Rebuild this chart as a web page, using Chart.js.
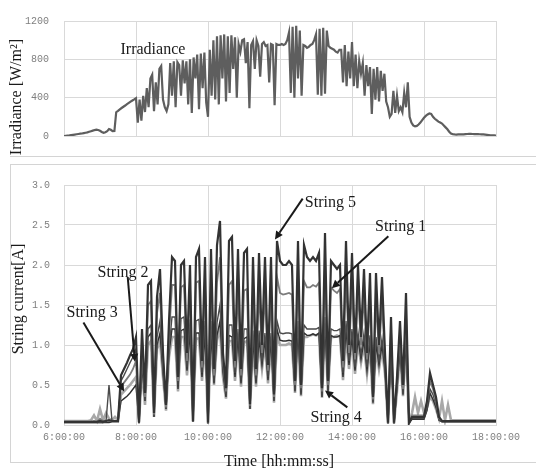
<!DOCTYPE html>
<html>
<head>
<meta charset="utf-8">
<script src="https://cdn.jsdelivr.net/npm/chart.js@4.4.1/dist/chart.umd.min.js"></script>
<style>
  body { margin: 0; width: 536px; height: 471px; background: #fff; overflow: hidden; position: relative; }
  canvas { position: absolute; left: 0; }
  #irrChart { top: 0; }
  #curChart { top: 165px; }
  .sep { position: absolute; left: 10px; top: 156px; width: 530px; border-top: 1px solid #d4d4d4; }
  .frame { position: absolute; left: 10px; top: 164px; width: 540px; height: 297px; border: 1px solid #d4d4d4; }
  .title { position: absolute; font-family: 'Liberation Serif', serif; font-size: 16px; color: #1a1a1a; white-space: nowrap; transform: translate(-50%, -50%); }
  .rot { transform: translate(-50%, -50%) rotate(-90deg); }
</style>
</head>
<body>
<div class="sep"></div>
<div class="frame"></div>
<canvas id="irrChart" width="536" height="157"></canvas>
<canvas id="curChart" width="536" height="297"></canvas>
<div class="title rot" style="left:16px; top:97px;">Irradiance [W/m²]</div>
<div class="title rot" style="left:18px; top:299px;">String current[A]</div>
<div class="title" style="left:279px; top:461px;">Time [hh:mm:ss]</div>

<script>
// sampling: hours from 6:00, irradiance every 3 min, currents every 5 min
const startHour = 6;
const irrStepMin = 3;
const curStepMin = 5;

const timeLabels = ['6:00:00', '8:00:00', '10:00:00', '12:00:00', '14:00:00', '16:00:00', '18:00:00'];

// W/m2
const irradiance = [
  0,2,4,6,9,12,15,18,21,24,
  26,30,34,38,44,50,56,62,66,63,
  55,42,33,40,50,72,65,50,52,248,
  262,278,292,305,318,332,345,358,370,382,
  395,
  140,380,160,420,250,500,300,600,640,260,
  560,330,700,730,380,300,260,330,760,420,
  780,300,770,740,420,790,550,780,330,800,
  240,820,600,850,280,860,500,870,350,200,
  900,420,1000,380,1040,330,1050,600,1060,360,
  1040,450,1050,700,1030,400,960,880,1000,1010,
  760,980,290,950,990,700,1000,940,620,960,
  980,940,950,560,960,950,320,960,950,950,
  960,950,960,1000,1080,450,1140,400,1150,600,
  1100,420,950,940,920,930,950,960,1000,1060,
  430,1120,420,1130,440,1100,940,920,910,900,
  880,870,900,900,560,950,520,880,600,980,
  520,850,500,780,650,760,420,740,520,720,
  230,700,380,720,360,680,470,650,360,300,
  200,230,470,240,420,260,300,250,450,300,
  560,200,140,110,100,105,120,140,165,190,
  210,225,235,230,200,180,165,150,140,130,
  110,90,70,45,25,18,16,15,16,17,
  18,18,20,21,22,22,21,20,20,19,
  18,17,16,14,12,10,8,7,6,5
];

// A, one row per hour (6h ... 17h) + 18:00
const string5 = [
  .04,.04,.04,.04,.04,.04,.04,.04,.04,.04,.04,.04,
  .05,.04,.05,.06,.05,.05,.05,.62,.7,.78,.87,.95,
  1.1,.03,1.2,.4,1.75,1.8,.15,1.6,1.95,.9,.25,1.3,
  2.1,2.05,.6,2.0,2.05,.9,2.0,.05,2.1,2.2,.8,2.1,
  .03,2.2,.7,2.25,2.55,.9,.46,2.3,2.35,.8,2.2,.7,
  2.15,2.2,.26,2.1,.7,2.15,1.0,2.1,.75,2.1,.38,2.3,
  2.05,2.0,2.0,2.05,2.0,.55,2.3,.5,2.25,2.1,2.05,2.1,
  2.05,2.15,.46,2.4,.55,2.05,2.0,1.95,2.0,.8,2.3,1.0,
  2.15,.9,2.0,1.1,1.95,.9,1.9,.35,1.9,1.0,1.85,.9,
  .03,1.35,.03,.6,1.3,.5,1.65,.03,.1,.1,.1,.1,
  .1,.3,.65,.5,.35,.1,.05,.05,.05,.05,.05,.05,
  .05,.05,.05,.05,.05,.05,.05,.05,.05,.05,.05,.05,
  .05
];
const string1 = [
  .04,.04,.04,.04,.04,.04,.04,.04,.04,.04,.05,.04,
  .08,.05,.06,.05,.05,.05,.05,.48,.53,.58,.63,.7,
  .8,.03,1.0,.35,1.5,1.55,.13,1.4,1.65,.8,.22,1.1,
  1.75,1.75,.55,1.72,1.75,.8,1.75,.05,1.78,1.8,.72,1.75,
  .03,1.8,.62,1.78,2.1,.8,.42,1.75,1.8,.72,1.7,.62,
  1.68,1.7,.24,1.65,.62,1.68,.9,1.65,.68,1.66,.35,1.85,
  1.65,1.63,1.64,1.65,1.63,.5,1.85,.46,1.8,1.72,1.72,1.75,
  1.73,1.78,.42,1.95,.5,1.72,1.68,1.65,1.7,.72,1.85,.9,
  1.72,.82,1.65,1.0,1.62,.82,1.58,.32,1.55,.9,1.52,.82,
  .03,1.2,.03,.55,1.15,.45,1.4,.03,.12,.12,.12,.12,
  .12,.28,.55,.45,.3,.08,.05,.05,.05,.05,.05,.05,
  .05,.05,.05,.05,.05,.05,.05,.05,.05,.05,.05,.05,
  .05
];
const string2 = [
  .03,.03,.03,.03,.03,.03,.03,.03,.03,.03,.03,.03,
  .03,.03,.04,.5,.05,.05,.05,.55,.62,.7,.78,.85,
  .95,.03,.8,.3,1.2,1.25,.12,1.1,1.3,.7,.2,.95,
  1.35,1.35,.5,1.33,1.35,.72,1.32,.04,1.3,1.32,.65,1.3,
  .02,1.3,.55,1.28,1.5,.7,.38,1.25,1.25,.65,1.2,.56,
  1.2,1.2,.22,1.18,.56,1.18,.8,1.15,.6,1.15,.32,1.3,
  1.15,1.14,1.15,1.15,1.14,.45,1.3,.42,1.25,1.2,1.2,1.2,
  1.2,1.22,.38,1.35,.45,1.2,1.18,1.18,1.2,.65,1.3,.8,
  1.2,.72,1.16,.88,1.15,.72,1.12,.3,1.1,.8,1.08,.72,
  .02,1.0,.02,.5,1.0,.4,1.15,.02,.08,.08,.08,.08,
  .08,.2,.45,.38,.25,.07,.04,.04,.04,.04,.04,.04,
  .04,.04,.04,.04,.04,.04,.04,.04,.04,.04,.04,.04,
  .04
];
const string3 = [
  .03,.03,.03,.03,.03,.03,.03,.03,.03,.03,.03,.03,
  .03,.03,.03,.03,.04,.04,.04,.3,.33,.36,.4,.45,
  .5,.02,.75,.3,1.1,1.15,.1,1.0,1.15,.65,.2,.9,
  1.2,1.2,.45,1.18,1.2,.68,1.18,.04,1.15,1.15,.6,1.15,
  .02,1.15,.52,1.12,1.3,.66,.35,1.12,1.1,.6,1.1,.52,
  1.08,1.1,.2,1.08,.52,1.08,.75,1.07,.56,1.07,.3,1.2,
  1.06,1.05,1.05,1.06,1.05,.42,1.2,.38,1.15,1.12,1.12,1.14,
  1.12,1.15,.35,1.25,.42,1.12,1.1,1.1,1.12,.6,1.2,.75,
  1.1,.68,1.08,.82,1.06,.68,1.04,.28,1.02,.75,1.0,.68,
  .02,.95,.02,.45,.95,.38,1.05,.02,.07,.07,.07,.07,
  .07,.18,.4,.32,.22,.06,.04,.04,.04,.04,.04,.04,
  .04,.04,.04,.04,.04,.04,.04,.04,.04,.04,.04,.04,
  .04
];
const string4 = [
  .05,.05,.05,.05,.05,.05,.05,.05,.05,.06,.12,.05,
  .2,.06,.15,.08,.06,.1,.06,.38,.42,.46,.5,.55,
  .6,.04,.7,.25,1.0,1.05,.1,.95,1.05,.6,.18,.85,
  1.1,1.1,.42,1.1,1.1,.62,1.1,.04,1.08,1.08,.55,1.08,
  .02,1.1,.5,1.06,1.2,.6,.33,1.05,1.05,.55,1.05,.48,
  1.03,1.05,.2,1.02,.48,1.03,.7,1.02,.52,1.02,.28,1.1,
  1.0,1.0,1.0,1.02,1.0,.4,1.12,.36,1.1,1.1,1.12,1.13,
  1.12,1.14,.34,1.2,.4,1.1,1.1,1.12,1.1,.56,1.12,.7,
  1.05,.64,1.02,.78,1.0,.64,.98,.26,.96,.7,.95,.64,
  .02,.9,.02,.42,.9,.36,1.0,.02,.15,.35,.15,.3,
  .15,.22,.35,.3,.2,.08,.3,.06,.25,.06,.06,.06,
  .06,.06,.06,.06,.06,.06,.06,.06,.06,.06,.06,.06,
  .06
];

// labels with arrows, in data units: text at [hour, value], arrow from -> to
const irrNotes = [
  { text: 'Irradiance', at: [7.57, 857] }
];
const curNotes = [
  { text: 'String 5', at: [12.69, 2.73], from: [12.63, 2.83], to: [11.86, 2.32] },
  { text: 'String 1', at: [14.64, 2.43], from: [15.01, 2.36], to: [13.44, 1.71] },
  { text: 'String 2', at: [6.93, 1.85], from: [7.77, 1.85], to: [7.97, 0.79] },
  { text: 'String 3', at: [6.07, 1.35], from: [6.54, 1.28], to: [7.67, 0.42] },
  { text: 'String 4', at: [12.85, 0.04], from: [13.87, 0.22], to: [13.25, 0.43] }
];

function toPoints(values, stepMin) {
  return values.map((v, i) => ({ x: startHour + i * stepMin / 60, y: v }));
}

const gridColor = '#d9d9d9';
const tickFont = { family: 'Liberation Mono', size: 10 };
const tickColor = '#7f7f7f';

const notesPlugin = {
  id: 'notes',
  afterDatasetsDraw(chart, args, opts) {
    const ctx = chart.ctx;
    const xs = chart.scales.x, ys = chart.scales.y;
    ctx.save();
    ctx.font = '16px "Liberation Serif"';
    ctx.fillStyle = '#1a1a1a';
    ctx.strokeStyle = '#1a1a1a';
    ctx.lineWidth = 2;
    opts.list.forEach(n => {
      ctx.fillText(n.text, xs.getPixelForValue(n.at[0]), ys.getPixelForValue(n.at[1]));
      if (!n.from) return;
      const x1 = xs.getPixelForValue(n.from[0]), y1 = ys.getPixelForValue(n.from[1]);
      const x2 = xs.getPixelForValue(n.to[0]), y2 = ys.getPixelForValue(n.to[1]);
      const a = Math.atan2(y2 - y1, x2 - x1);
      const bx = x2 - 8 * Math.cos(a), by = y2 - 8 * Math.sin(a);
      ctx.beginPath();
      ctx.moveTo(x1, y1);
      ctx.lineTo(bx, by);
      ctx.stroke();
      ctx.beginPath();
      ctx.moveTo(x2, y2);
      ctx.lineTo(bx + 4 * Math.sin(a), by - 4 * Math.cos(a));
      ctx.lineTo(bx - 4 * Math.sin(a), by + 4 * Math.cos(a));
      ctx.closePath();
      ctx.fill();
    });
    ctx.restore();
  }
};

function xAxis(showTicks, height) {
  return {
    type: 'linear', min: 6, max: 18,
    grid: { color: gridColor, drawTicks: false },
    border: { color: gridColor },
    ticks: {
      display: showTicks, stepSize: 2, padding: 6, font: tickFont, color: tickColor,
      callback: v => timeLabels[(v - 6) / 2]
    },
    afterFit: s => { s.height = height; }
  };
}

new Chart(document.getElementById('irrChart'), {
  type: 'line',
  data: {
    datasets: [{
      data: toPoints(irradiance, irrStepMin),
      borderColor: '#5e5e5e', borderWidth: 2.2, pointRadius: 0, tension: 0
    }]
  },
  options: {
    responsive: false, animation: false,
    layout: { padding: { left: 0, right: 40, top: 18, bottom: 0 } },
    plugins: { legend: { display: false }, tooltip: { enabled: false }, notes: { list: irrNotes } },
    scales: {
      x: xAxis(false, 17),
      y: {
        min: 0, max: 1200,
        grid: { color: gridColor, drawTicks: false },
        border: { color: gridColor },
        ticks: { stepSize: 400, padding: 15, font: tickFont, color: tickColor, callback: v => String(v) },
        afterFit: s => { s.width = 64; }
      }
    }
  },
  plugins: [notesPlugin]
});

const strings = [
  { data: string5, color: '#333333', width: 2.2 },
  { data: string1, color: '#7c7c7c', width: 1.8 },
  { data: string2, color: '#4a4a4a', width: 1.4 },
  { data: string3, color: '#2e2e2e', width: 1.4 },
  { data: string4, color: '#a8a8a8', width: 2.6 }
];

new Chart(document.getElementById('curChart'), {
  type: 'line',
  data: {
    datasets: strings.map(s => ({
      data: toPoints(s.data, curStepMin),
      borderColor: s.color, borderWidth: s.width, pointRadius: 0, tension: 0
    }))
  },
  options: {
    responsive: false, animation: false,
    layout: { padding: { left: 0, right: 40, top: 12, bottom: 0 } },
    plugins: { legend: { display: false }, tooltip: { enabled: false }, notes: { list: curNotes } },
    scales: {
      x: xAxis(true, 37),
      y: {
        min: 0, max: 3,
        grid: { color: gridColor, drawTicks: false },
        border: { color: gridColor },
        ticks: { stepSize: 0.5, padding: 14, font: tickFont, color: tickColor, callback: v => v.toFixed(1) },
        afterFit: s => { s.width = 64; }
      }
    }
  },
  plugins: [notesPlugin]
});
</script>
</body>
</html>
